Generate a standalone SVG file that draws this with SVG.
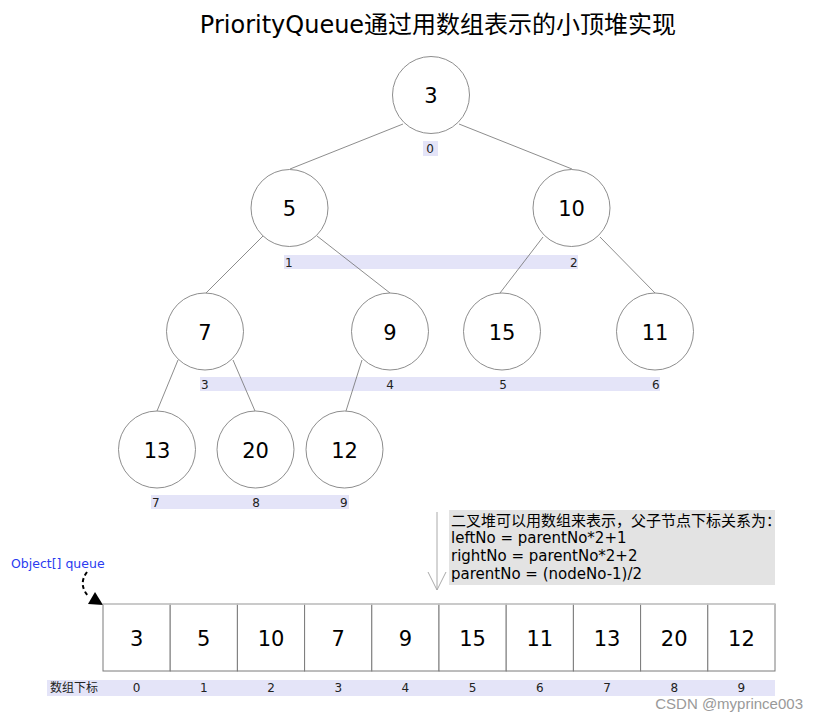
<svg xmlns="http://www.w3.org/2000/svg" width="817" height="721" viewBox="0 0 817 721">
<defs>
<style>
.t{font-family:"DejaVu Sans","Noto Sans CJK SC",sans-serif;fill:#000}
.node circle{fill:#fff;stroke:#808080;stroke-width:0.9}
.node text{font-family:"DejaVu Sans",sans-serif;font-size:21px;text-anchor:middle;fill:#000}
.bar{fill:#e4e4f8}
.idx{font-family:"DejaVu Sans",sans-serif;font-size:12px;fill:#222}
.edge{stroke:#707070;stroke-width:0.8;fill:none}
.cell{fill:#fff;stroke:#7a7a7a;stroke-width:1}
.cv{font-family:"DejaVu Sans",sans-serif;font-size:21px;text-anchor:middle;fill:#000}
.ai{font-family:"DejaVu Sans",sans-serif;font-size:12px;text-anchor:middle;fill:#222}
.note{font-family:"DejaVu Sans","Noto Sans CJK SC",sans-serif;font-size:15px;fill:#000}
</style>
</defs>
<rect width="817" height="721" fill="#fff"/>
<text class="t" x="438" y="33" font-size="24" text-anchor="middle">PriorityQueue通过用数组表示的小顶堆实现</text>

<g id="index-bars">
<rect class="bar" x="423" y="141" width="15" height="15"/>
<text class="idx" x="430" y="153" text-anchor="middle">0</text>
<rect class="bar" x="284" y="255" width="294" height="14"/>
<text class="idx" x="285" y="267">1</text>
<text class="idx" x="570" y="267">2</text>
<rect class="bar" x="200" y="377" width="460" height="14"/>
<text class="idx" x="201" y="389">3</text>
<text class="idx" x="390" y="389" text-anchor="middle">4</text>
<text class="idx" x="503" y="389" text-anchor="middle">5</text>
<text class="idx" x="652" y="389">6</text>
<rect class="bar" x="151" y="495" width="198" height="14"/>
<text class="idx" x="152" y="507">7</text>
<text class="idx" x="256" y="507" text-anchor="middle">8</text>
<text class="idx" x="340" y="507">9</text>
</g>

<g id="connectors">
<line class="edge" x1="403" y1="124" x2="290" y2="169"/>
<line class="edge" x1="459" y1="124" x2="572" y2="169"/>
<line class="edge" x1="263" y1="236" x2="206" y2="293"/>
<line class="edge" x1="317" y1="236" x2="390" y2="293"/>
<line class="edge" x1="543" y1="237" x2="500" y2="293"/>
<line class="edge" x1="600" y1="237" x2="655" y2="293"/>
<line class="edge" x1="178" y1="360" x2="157" y2="411"/>
<line class="edge" x1="233" y1="360" x2="255" y2="411"/>
<line class="edge" x1="362" y1="360" x2="346" y2="411"/>
<line x1="437" y1="512" x2="437" y2="590" stroke="#aaa" stroke-width="1"/>
<polyline points="428,572 437,590 446,572" fill="none" stroke="#aaa" stroke-width="1"/>
<path d="M87,572 Q78,584 88,596" fill="none" stroke="#000" stroke-width="2" stroke-dasharray="4,3"/>
<polygon points="88,604 103,605 95,592" fill="#000"/>
</g>

<g id="n0" class="node"><circle cx="431" cy="95" r="38.5"/><text x="431" y="103">3</text></g>
<g id="n1" class="node"><circle cx="289.5" cy="208" r="38.5"/><text x="289.5" y="216">5</text></g>
<g id="n2" class="node"><circle cx="571.5" cy="208" r="38.5"/><text x="571.5" y="216">10</text></g>
<g id="n3" class="node"><circle cx="205" cy="331.5" r="38.5"/><text x="205" y="339.5">7</text></g>
<g id="n4" class="node"><circle cx="390" cy="331.5" r="38.5"/><text x="390" y="339.5">9</text></g>
<g id="n5" class="node"><circle cx="502" cy="331.5" r="38.5"/><text x="502" y="339.5">15</text></g>
<g id="n6" class="node"><circle cx="655" cy="331.5" r="38.5"/><text x="655" y="339.5">11</text></g>
<g id="n7" class="node"><circle cx="157" cy="449.5" r="38.5"/><text x="157" y="457.5">13</text></g>
<g id="n8" class="node"><circle cx="255.5" cy="449.5" r="38.5"/><text x="255.5" y="457.5">20</text></g>
<g id="n9" class="node"><circle cx="344.5" cy="449.5" r="38.5"/><text x="344.5" y="457.5">12</text></g>

<g id="note">
<rect x="449" y="510" width="326" height="75" fill="#e3e3e3"/>
<text class="note" x="451" y="526">二叉堆可以用数组来表示，父子节点下标关系为：</text>
<text class="note" x="451" y="543">leftNo = parentNo*2+1</text>
<text class="note" x="451" y="561">rightNo = parentNo*2+2</text>
<text class="note" x="451" y="579">parentNo = (nodeNo-1)/2</text>
</g>

<g id="queue-label">
<text x="11" y="568" font-family="DejaVu Sans,sans-serif" font-size="12.5" fill="#2a3cf0">Object[] queue</text>
</g>

<g id="array">
<rect class="cell" x="103" y="604" width="67.2" height="67"/>
<rect class="cell" x="170.2" y="604" width="67.2" height="67"/>
<rect class="cell" x="237.4" y="604" width="67.2" height="67"/>
<rect class="cell" x="304.6" y="604" width="67.2" height="67"/>
<rect class="cell" x="371.8" y="604" width="67.2" height="67"/>
<rect class="cell" x="439" y="604" width="67.2" height="67"/>
<rect class="cell" x="506.2" y="604" width="67.2" height="67"/>
<rect class="cell" x="573.4" y="604" width="67.2" height="67"/>
<rect class="cell" x="640.6" y="604" width="67.2" height="67"/>
<rect class="cell" x="707.8" y="604" width="67.2" height="67"/>
<line x1="103" y1="604" x2="775" y2="604" stroke="#cfcfcf" stroke-width="1.5"/>
<text class="cv" x="136.6" y="646">3</text>
<text class="cv" x="203.8" y="646">5</text>
<text class="cv" x="271" y="646">10</text>
<text class="cv" x="338.2" y="646">7</text>
<text class="cv" x="405.4" y="646">9</text>
<text class="cv" x="472.6" y="646">15</text>
<text class="cv" x="539.8" y="646">11</text>
<text class="cv" x="607" y="646">13</text>
<text class="cv" x="674.2" y="646">20</text>
<text class="cv" x="741.4" y="646">12</text>
</g>

<g id="array-index">
<rect class="bar" x="47" y="680" width="728" height="16"/>
<text x="50" y="692" font-family="DejaVu Sans,Noto Sans CJK SC,sans-serif" font-size="12" fill="#222">数组下标</text>
<text class="ai" x="136.6" y="692">0</text>
<text class="ai" x="203.8" y="692">1</text>
<text class="ai" x="271" y="692">2</text>
<text class="ai" x="338.2" y="692">3</text>
<text class="ai" x="405.4" y="692">4</text>
<text class="ai" x="472.6" y="692">5</text>
<text class="ai" x="539.8" y="692">6</text>
<text class="ai" x="607" y="692">7</text>
<text class="ai" x="674.2" y="692">8</text>
<text class="ai" x="741.4" y="692">9</text>
</g>

<text x="803" y="709" font-family="Liberation Sans,Arial,sans-serif" font-size="15" fill="#999" text-anchor="end">CSDN @myprince003</text>
</svg>
